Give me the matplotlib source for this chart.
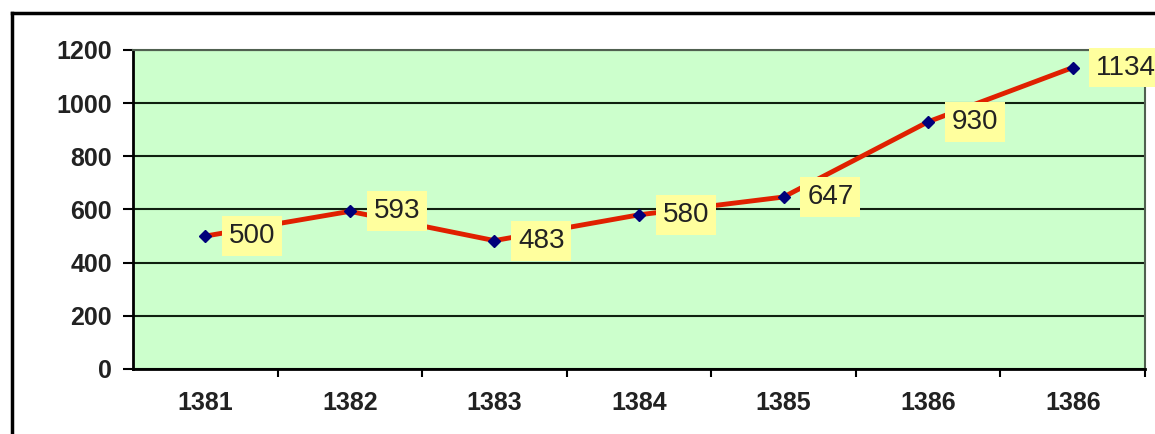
import matplotlib
matplotlib.use("Agg")
import matplotlib.pyplot as plt
from matplotlib.lines import Line2D

# data
years = ["1381", "1382", "1383", "1384", "1385", "1386", "1386"]
values = [500, 593, 483, 580, 647, 930, 1134]
y_ticks = [0, 200, 400, 600, 800, 1000, 1200]

plt.rcParams['font.family'] = ['Liberation Sans', 'DejaVu Sans']

fig = plt.figure(figsize=(11.55, 4.34), dpi=100)
fig.patch.set_facecolor("white")

# outer frame, only top and left edges visible in the crop
fx0 = 12 / 1155
fy0 = 1 - 13 / 434
fig.add_artist(Line2D([fx0, 1.01], [fy0, fy0], color="black", lw=2.5,
                      transform=fig.transFigure))
fig.add_artist(Line2D([fx0, fx0], [-0.01, fy0], color="black", lw=2.5,
                      transform=fig.transFigure))

ax = fig.add_axes([133 / 1155, 1 - 369 / 434, (1145 - 133) / 1155, (369 - 50) / 434])
ax.set_facecolor("#ccffcc")

x = list(range(len(values)))
ax.plot(x, values, color="#e02000", lw=3.5, zorder=3,
        marker="D", markersize=6.5, markerfacecolor="#00007a",
        markeredgecolor="#00007a")

for xi, v in zip(x, values):
    ax.annotate(str(v), (xi, v), xytext=(17, 0), textcoords="offset points",
                ha="left", va="center", fontsize=20, color="#222222",
                bbox=dict(boxstyle="square,pad=0.25", fc="#ffff9e", ec="none"),
                annotation_clip=False, zorder=5).set_clip_on(False)

ax.set_xlim(-0.5, len(values) - 0.5)
ax.set_ylim(0, 1200)
ax.set_yticks(y_ticks)
ax.set_yticklabels([str(t) for t in y_ticks], fontsize=18, fontweight="bold",
                   color="#222222")
ax.set_xticks(x)
ax.set_xticklabels(years, fontsize=18, fontweight="bold", color="#222222")
ax.set_xticks([i + 0.5 for i in range(len(values))], minor=True)
ax.tick_params(axis="x", which="major", length=0, pad=16)
ax.tick_params(axis="x", which="minor", length=6, width=1.5, direction="out")
ax.tick_params(axis="y", length=7, width=1.5, pad=8)

ax.grid(axis="y", color="#102010", lw=1.5)
ax.set_axisbelow(True)
for side in ["left", "bottom"]:
    ax.spines[side].set_color("black")
    ax.spines[side].set_linewidth(2)
for side in ["top", "right"]:
    ax.spines[side].set_color("#506050")
    ax.spines[side].set_linewidth(1.5)

fig.savefig("out.png", dpi=100)
plt.close()
